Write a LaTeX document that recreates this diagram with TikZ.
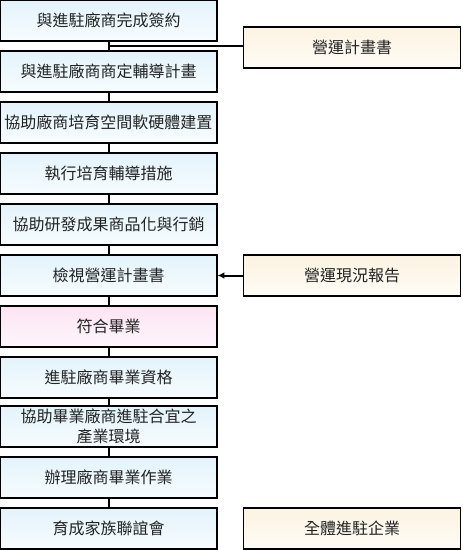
\documentclass[tikz,border=0pt]{standalone}
\usepackage{fontspec}
\newfontfamily\cjk{Noto Sans CJK TC}
\usepackage{tikz}
\usetikzlibrary{arrows.meta, calc}
\usepackage{xcolor}
\definecolor{steptop}{RGB}{227,243,251}
\definecolor{stepbot}{RGB}{247,252,254}
\definecolor{passtop}{RGB}{251,228,242}
\definecolor{passbot}{RGB}{254,246,251}
\definecolor{sidetop}{RGB}{252,243,226}
\definecolor{sidebot}{RGB}{254,252,246}
\definecolor{textgray}{RGB}{34,34,34}

\begin{document}
\begin{tikzpicture}[x=0.75pt, y=-0.75pt,
    box/.style={draw=black, line width=1pt, minimum width=162.75pt, minimum height=30.75pt,
        inner sep=0pt, align=center, text=textgray, font=\cjk\fontsize{12}{15}\selectfont},
    stepbox/.style={box, top color=steptop, bottom color=stepbot},
    passbox/.style={box, top color=passtop, bottom color=passbot},
    sidebox/.style={box, top color=sidetop, bottom color=sidebot},
    link/.style={line width=1.5pt}]
    \useasboundingbox (0,0) rectangle (462,550);
    % main flow
    \node[stepbox] (sign) at (108.5,20.5) {與進駐廠商完成簽約};
    \node[stepbox] (plan) at (108.5,71.5) {與進駐廠商商定輔導計畫};
    \node[stepbox] (build) at (108.5,122.5) {協助廠商培育空間軟硬體建置};
    \node[stepbox] (coach) at (108.5,173.5) {執行培育輔導措施};
    \node[stepbox] (market) at (108.5,224.5) {協助研發成果商品化與行銷};
    \node[stepbox] (review) at (108.5,275.5) {檢視營運計畫書};
    \node[passbox] (pass) at (108.5,326.5) {符合畢業};
    \node[stepbox] (status) at (108.5,377.5) {進駐廠商畢業資格};
    \node[stepbox] (move) at (108.5,426.5) {協助畢業廠商進駐合宜之\\產業環境};
    \node[stepbox] (grad) at (108.5,477.5) {辦理廠商畢業作業};
    \node[stepbox] (party) at (108.5,528.5) {育成家族聯誼會};
    % side boxes
    \node[sidebox] (book) at (352,47.5) {營運計畫書};
    \node[sidebox] (report) at (352,275.5) {營運現況報告};
    \node[sidebox] (all) at (352,528.5) {全體進駐企業};
    % connectors
    \draw[link] (sign) -- (plan);
    \draw[link] (plan) -- (build);
    \draw[link] (build) -- (coach);
    \draw[link] (coach) -- (market);
    \draw[link] (market) -- (review);
    \draw[link] (review) -- (pass);
    \draw[link] (pass) -- (status);
    \draw[link] (status) -- (move);
    \draw[link] (move) -- (grad);
    \draw[link] (grad) -- (party);
    \coordinate (joint) at ($(sign.south)!0.5!(plan.north)$);
    \draw[link] (joint) -- (joint -| book.west);
    \draw[link, -{Latex[length=5pt, width=5pt]}] (report.west) -- (review.east);
\end{tikzpicture}
\end{document}
